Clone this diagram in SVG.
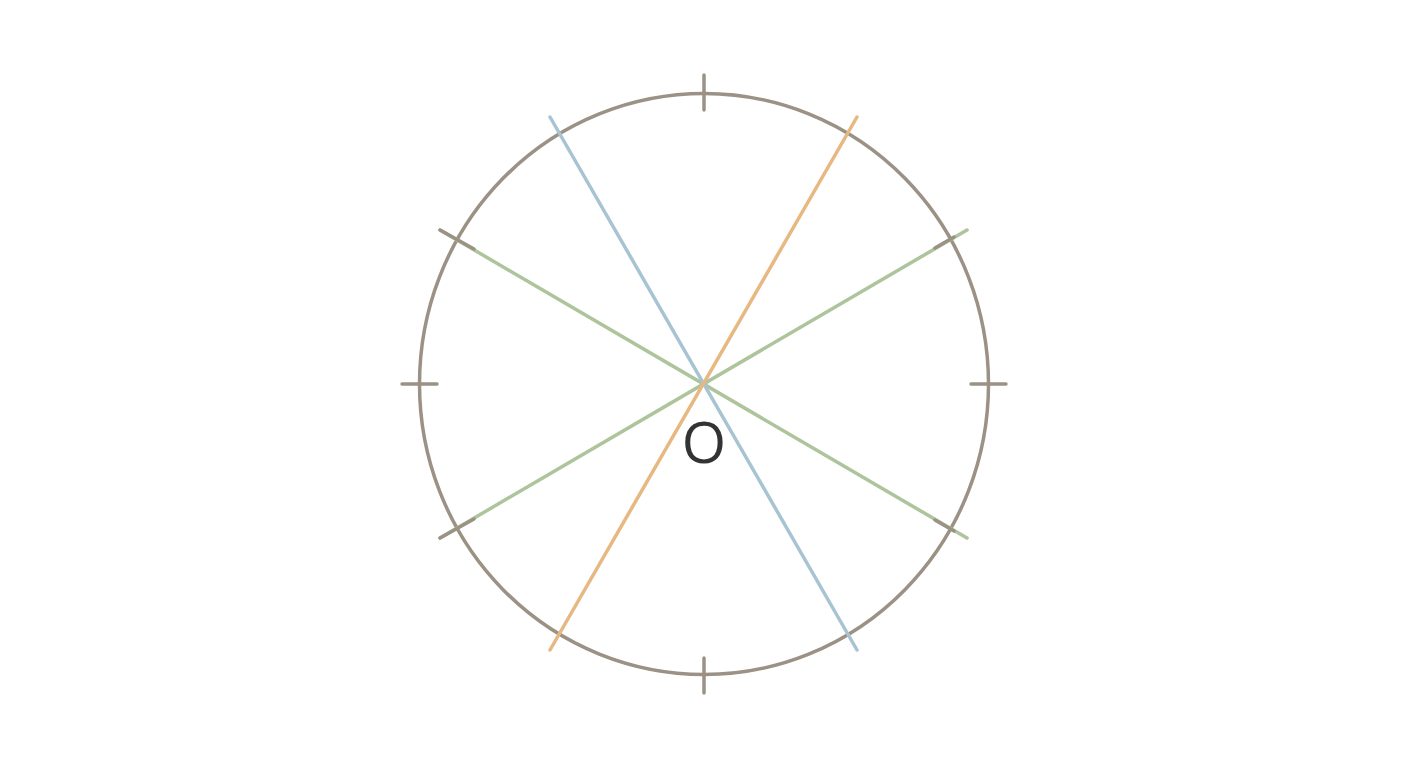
<svg xmlns="http://www.w3.org/2000/svg" width="1408" height="768" viewBox="0 0 1408 768">
<style>
.ln{fill:none;stroke-width:3.5;stroke-linecap:round}
.g{stroke:#adc49c}
.b{stroke:#a8c4d2}
.o{stroke:#e7b882}
.t{stroke:#9b9184;stroke-width:3.5;fill:none;stroke-linecap:round}
.lbl{font-family:"Open Sans","DejaVu Sans",sans-serif;font-size:57px;fill:#333333}
</style>
<rect width="1408" height="768" fill="#ffffff"/>
<g id="circle">
<ellipse cx="704" cy="384" rx="284.5" ry="290.5" class="t"/>
</g>
<g id="connectors">
<line class="ln g" x1="440" y1="230" x2="967" y2="538"/>
<line class="ln g" x1="440" y1="538" x2="967" y2="230"/>
<line class="ln b" x1="550" y1="117" x2="857" y2="650"/>
<line class="ln o" x1="857" y1="117" x2="550" y2="650"/>
</g>
<g id="ticks">
<line class="t" x1="704" y1="75" x2="704" y2="110"/>
<line class="t" x1="704" y1="658" x2="704" y2="693"/>
<line class="t" x1="402" y1="384" x2="437" y2="384"/>
<line class="t" x1="971" y1="384" x2="1006" y2="384"/>
<line class="t" x1="440" y1="230" x2="474" y2="249"/>
<line class="t" x1="440" y1="538" x2="474" y2="519"/>
<line class="t" x1="935" y1="248" x2="954" y2="237"/>
<line class="t" x1="935" y1="520" x2="954" y2="531"/>
</g>
<g id="label">
<text class="lbl" x="704" y="463" text-anchor="middle">O</text>
</g>
</svg>
